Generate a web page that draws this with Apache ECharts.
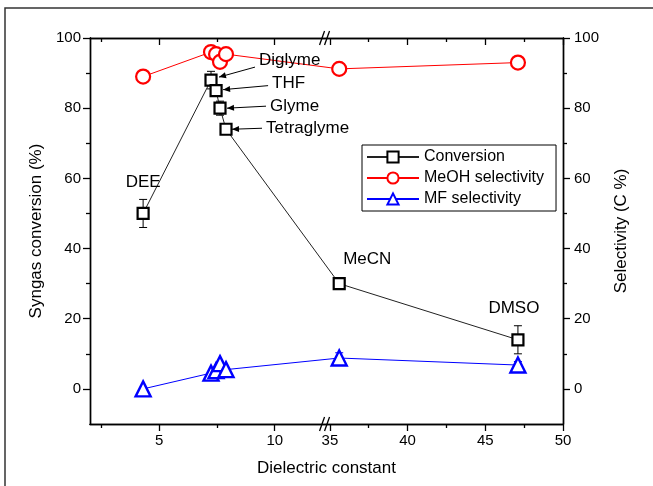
<!DOCTYPE html>
<html><head><meta charset="utf-8">
<script src="https://cdn.jsdelivr.net/npm/echarts@6/dist/echarts.min.js"></script>
<style>html,body{margin:0;padding:0;background:#fff}#c{width:653px;height:486px}</style>
</head><body><div id="c"></div>
<script>
// ---- data ----
const solvents = ['DEE', 'Diglyme', 'THF', 'Glyme', 'Tetraglyme', 'MeCN', 'DMSO'];
const dielectric = [4.3, 7.24, 7.46, 7.63, 7.89, 35.6, 47.1];
const conversion = [50, 88, 85, 80, 74, 30, 14];
const conversionErr = [4, 2.5, 0, 2, 0, 0, 4];
const meohSelectivity = [89, 96, 95.4, 93.2, 95.4, 91.2, 93];
const mfSelectivity = [0, 4.5, 5.2, 7.2, 5.5, 8.8, 6.8];
const mfErr = [0, 0, 0, 0, 0, 1.5, 1];
const xMajorTicks = [5, 10, 35, 40, 45, 50];
const xMinorTicks = [2.5, 7.5, 37.5, 42.5, 47.5];
const yMajorTicks = [0, 20, 40, 60, 80, 100];
const yMinorTicks = [10, 30, 50, 70, 90];

// ---- broken x axis mapping ----
const X_MIN = 2, BREAK_L = 12.2, BREAK_R = 34.72, X_MAX = 50, K_RIGHT = 0.673;
function toD(x) {
  return x <= BREAK_L ? x - X_MIN : (BREAK_L - X_MIN) + (x - BREAK_R) * K_RIGHT;
}
const D_MAX = toD(X_MAX);
function xLabel(v) {
  for (const t of xMajorTicks) if (Math.abs(toD(t) - v) < 1e-6) return String(t);
  return '';
}

const FONT = "'Liberation Sans', Arial, sans-serif";
const chart = echarts.init(document.getElementById('c'));

function xAx(pos, ticks, len, inside, labels) {
  return {
    type: 'value', position: pos, min: 0, max: D_MAX,
    axisLine: { show: true, onZero: false, lineStyle: { color: '#000', width: 1.4 } },
    axisTick: { show: true, inside: inside, length: len, customValues: ticks.map(toD), lineStyle: { color: '#000', width: 1.3 } },
    axisLabel: labels ? { show: true, customValues: xMajorTicks.map(toD), formatter: xLabel, color: '#000', fontSize: 15, fontFamily: FONT, margin: 9 } : { show: false },
    splitLine: { show: false }
  };
}
function yAx(pos, ticks, len, labels, name, margin) {
  return {
    type: 'value', position: pos, min: -10, max: 100,
    name: name || '', nameLocation: 'middle', nameRotate: 90, nameGap: 42,
    nameTextStyle: { color: '#000', fontSize: 17, fontFamily: FONT },
    axisLine: { show: true, onZero: false, lineStyle: { color: '#000', width: 1.4 } },
    axisTick: { show: true, inside: false, length: len, customValues: ticks, lineStyle: { color: '#000', width: 1.3 } },
    axisLabel: labels ? { show: true, customValues: yMajorTicks, color: '#000', fontSize: 15, fontFamily: FONT, margin: margin } : { show: false },
    splitLine: { show: false }
  };
}

const xAxes = [
  xAx('bottom', xMajorTicks, 7, false, true),
  xAx('bottom', xMinorTicks, 4, false, false),
  xAx('top', xMajorTicks, 7, true, false),
  xAx('top', xMinorTicks, 4, true, false)
];
xAxes[0].name = 'Dielectric constant';
xAxes[0].nameLocation = 'middle';
xAxes[0].nameGap = 36;
xAxes[0].nameTextStyle = { color: '#000', fontSize: 17, fontFamily: FONT };

const yAxes = [
  yAx('left', yMajorTicks, 7, true, 'Syngas conversion (%)', 9),
  yAx('left', yMinorTicks, 4, false),
  yAx('right', yMajorTicks, 7, true, 'Selectivity (C %)', 11),
  yAx('right', yMinorTicks, 4, false)
];
yAxes[2].nameGap = 50;

function pts(ys) { return dielectric.map((x, i) => [toD(x), ys[i]]); }
function errData(ys, es) {
  const out = [];
  dielectric.forEach((x, i) => { if (es[i] > 0) out.push([toD(x), ys[i], es[i]]); });
  return out;
}
function errRender(color) {
  return function (params, api) {
    const x = api.value(0), y = api.value(1), e = api.value(2);
    const top = api.coord([x, y + e]), bot = api.coord([x, y - e]);
    const w = 4;
    return {
      type: 'group', children: [
        { type: 'line', shape: { x1: top[0], y1: top[1], x2: bot[0], y2: bot[1] }, style: { stroke: color, lineWidth: 1 } },
        { type: 'line', shape: { x1: top[0] - w, y1: top[1], x2: top[0] + w, y2: top[1] }, style: { stroke: color, lineWidth: 1 } },
        { type: 'line', shape: { x1: bot[0] - w, y1: bot[1], x2: bot[0] + w, y2: bot[1] }, style: { stroke: color, lineWidth: 1 } }
      ]
    };
  };
}

chart.setOption({
  animation: false,
  backgroundColor: '#fff',
  grid: { left: 90, right: 90, top: 38, bottom: 62, containLabel: false },
  xAxis: xAxes,
  yAxis: yAxes,
  legend: {
    orient: 'vertical', left: 362, top: 145,
    borderColor: '#000', borderWidth: 1, backgroundColor: '#fff',
    padding: [4, 12, 4, 4], itemGap: 5, itemWidth: 52, itemHeight: 14,
    textStyle: { color: '#000', fontSize: 16, fontFamily: FONT },
    data: ['Conversion', 'MeOH selectivity', 'MF selectivity']
  },
  series: [
    { type: 'custom', renderItem: errRender('#000'), data: errData(conversion, conversionErr), z: 1, silent: true },
    { type: 'custom', renderItem: errRender('#0000ff'), data: errData(mfSelectivity, mfErr), z: 1, silent: true },
    {
      name: 'Conversion', type: 'line', data: pts(conversion), symbol: 'rect', symbolSize: 11,
      lineStyle: { color: '#222', width: 1 }, itemStyle: { color: '#fff', borderColor: '#000', borderWidth: 2.2 }, z: 3
    },
    {
      name: 'MeOH selectivity', type: 'line', data: pts(meohSelectivity), symbol: 'circle', symbolSize: 14,
      lineStyle: { color: '#ff0000', width: 1 }, itemStyle: { color: '#fff', borderColor: '#ff0000', borderWidth: 2.2 }, z: 3
    },
    {
      name: 'MF selectivity', type: 'line', data: pts(mfSelectivity), symbol: 'triangle', symbolSize: 15,
      lineStyle: { color: '#0000ff', width: 1 }, itemStyle: { color: '#fff', borderColor: '#0000ff', borderWidth: 2.4 }, z: 3
    }
  ]
});

// ---- decorations: break marks, annotations, frame ----
function px(i, ys) { return chart.convertToPixel({ xAxisIndex: 0, yAxisIndex: 0 }, [toD(dielectric[i]), ys[i]]); }
const g = [];
const bx = chart.convertToPixel({ xAxisIndex: 0 }, toD(BREAK_L));
const yTop = chart.convertToPixel({ yAxisIndex: 0 }, 100);
const yBot = chart.convertToPixel({ yAxisIndex: 0 }, -10);
[yTop, yBot].forEach(yy => {
  g.push({ type: 'line', shape: { x1: bx - 6, y1: yy + 7, x2: bx - 1, y2: yy - 7 }, style: { stroke: '#000', lineWidth: 1.3 }, z: 10 });
  g.push({ type: 'line', shape: { x1: bx - 1, y1: yy + 7, x2: bx + 4, y2: yy - 7 }, style: { stroke: '#000', lineWidth: 1.3 }, z: 10 });
});
// annotations: [index, text dx, text dy, arrow [from dx,dy, to dx,dy] or null]
const ann = [
  [0, 0, -31, null],
  [1, 48, -20, [44, -13, 8, -3]],
  [2, 56, -7, [52, -5, 7, -1]],
  [3, 50, -2, [46, -2, 7, 0]],
  [4, 40, -1, [36, -1, 6, 0]],
  [5, 4, -24, null],
  [6, -4, -31, null]
];
ann.forEach(a => {
  const p = px(a[0], conversion);
  const centered = a[3] === null;
  g.push({
    type: 'text', x: p[0] + a[1], y: p[1] + a[2], z: 10,
    style: { text: solvents[a[0]], fill: '#000', font: '17px ' + FONT, align: centered ? (a[0] === 5 ? 'left' : 'center') : 'left', verticalAlign: 'middle' }
  });
  if (a[3]) {
    const [fx, fy, tx, ty] = a[3];
    const x1 = p[0] + fx, y1 = p[1] + fy, x2 = p[0] + tx, y2 = p[1] + ty;
    const ang = Math.atan2(y2 - y1, x2 - x1), L = 7, W = 3;
    g.push({ type: 'line', shape: { x1, y1, x2, y2 }, style: { stroke: '#000', lineWidth: 1 }, z: 10 });
    g.push({
      type: 'polygon', z: 10,
      shape: { points: [[x2, y2],
        [x2 - L * Math.cos(ang) + W * Math.sin(ang), y2 - L * Math.sin(ang) - W * Math.cos(ang)],
        [x2 - L * Math.cos(ang) - W * Math.sin(ang), y2 - L * Math.sin(ang) + W * Math.cos(ang)]] },
      style: { fill: '#000' }
    });
  }
});
g.push({ type: 'rect', shape: { x: 5, y: 8, width: 700, height: 600 }, style: { fill: null, stroke: '#333', lineWidth: 1.5 }, z: 0 });
chart.setOption({ graphic: g });
</script>
</body></html>
